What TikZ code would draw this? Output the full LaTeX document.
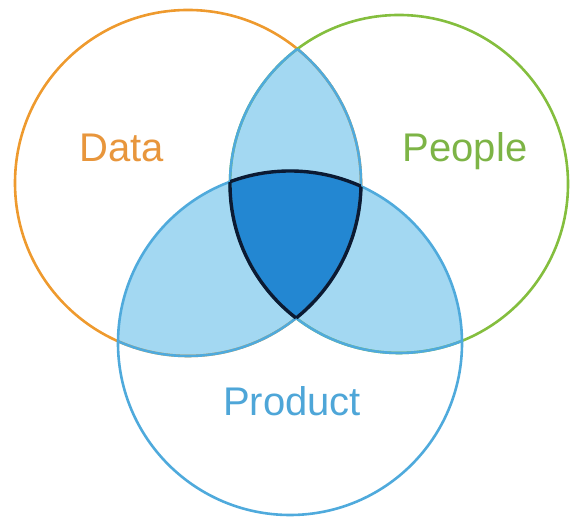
\documentclass[tikz,border=0pt]{standalone}
\usepackage{fontspec}
\setmainfont{Liberation Sans}
\definecolor{dataorange}{HTML}{EE9A2E}
\definecolor{datatext}{HTML}{E8963C}
\definecolor{peoplegreen}{HTML}{84BE3E}
\definecolor{peopletext}{HTML}{7DB446}
\definecolor{prodblue}{HTML}{4FAADC}
\definecolor{prodtext}{HTML}{4EA6D8}
\definecolor{lightfill}{HTML}{A3D8F2}
\definecolor{darkfill}{HTML}{2387D2}
\definecolor{darkline}{HTML}{0B1A33}
\tikzset{
  ring/.style={line width=2.6pt},
  coreline/.style={line width=3.4pt, draw=darkline},
  label/.style={anchor=base, font=\fontsize{40}{48}\selectfont}
}
\begin{document}
\begin{tikzpicture}[x=1pt,y=1pt]
\useasboundingbox (0,0) rectangle (570,518);
\coordinate (D) at (188,335);
\coordinate (P) at (399,334);
\coordinate (R) at (290,175);
\def\rD{173}\def\rP{169}\def\rR{172}
% pairwise overlaps
\begin{scope}\clip (D) circle[radius=\rD]; \fill[lightfill] (P) circle[radius=\rP]; \fill[lightfill] (R) circle[radius=\rR];\end{scope}
\begin{scope}\clip (P) circle[radius=\rP]; \fill[lightfill] (R) circle[radius=\rR];\end{scope}
% triple overlap
\begin{scope}\clip (D) circle[radius=\rD]; \clip (P) circle[radius=\rP]; \fill[darkfill] (R) circle[radius=\rR];\end{scope}
% outer rings
\draw[ring, dataorange] (D) circle[radius=\rD];
\draw[ring, peoplegreen] (P) circle[radius=\rP];
\draw[ring, prodblue] (R) circle[radius=\rR];
% inner boundaries in blue
\begin{scope}\clip (R) circle[radius=\rR]; \draw[ring, prodblue] (D) circle[radius=\rD]; \draw[ring, prodblue] (P) circle[radius=\rP];\end{scope}
\begin{scope}\clip (D) circle[radius=\rD]; \draw[ring, prodblue] (P) circle[radius=\rP];\end{scope}
\begin{scope}\clip (P) circle[radius=\rP]; \draw[ring, prodblue] (D) circle[radius=\rD];\end{scope}
% outline of the centre
\begin{scope}\clip (D) circle[radius=\rD]; \clip (P) circle[radius=\rP]; \draw[coreline] (R) circle[radius=\rR];\end{scope}
\begin{scope}\clip (D) circle[radius=\rD]; \clip (R) circle[radius=\rR]; \draw[coreline] (P) circle[radius=\rP];\end{scope}
\begin{scope}\clip (P) circle[radius=\rP]; \clip (R) circle[radius=\rR]; \draw[coreline] (D) circle[radius=\rD];\end{scope}
% labels
\node[label, text=datatext] (data) at (122,356) {Data};
\node[label, text=peopletext] (people) at (465,356) {People};
\node[label, text=prodtext] (product) at (292,102) {Product};
\end{tikzpicture}
\end{document}
